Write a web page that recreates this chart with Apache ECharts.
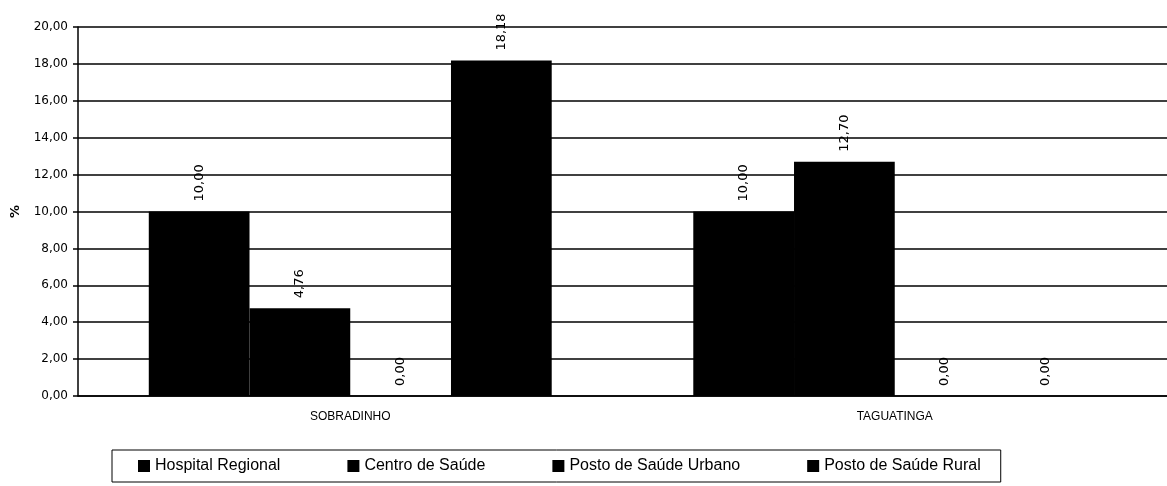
<!DOCTYPE html>
<html>
<head>
<meta charset="utf-8">
<script src="https://cdn.jsdelivr.net/npm/echarts@6/dist/echarts.min.js"></script>
<style>
  html, body { margin: 0; padding: 0; background: #fff; }
  #chart { width: 1167px; height: 486px; }
</style>
</head>
<body>
<div id="chart"></div>
<script>
// Regions compared
const categories = ['SOBRADINHO', 'TAGUATINGA'];

// Share (%) by type of health unit
const hospitalRegional = [10.00, 10.00];
const centroSaude = [4.76, 12.70];
const postoUrbano = [0.00, 0.00];
const postoRural = [18.18, 0.00];

const seriesNames = ['Hospital Regional', 'Centro de Saúde', 'Posto de Saúde Urbano', 'Posto de Saúde Rural'];
const yTickLabels = ['0,00', '2,00', '4,00', '6,00', '8,00', '10,00', '12,00', '14,00', '16,00', '18,00', '20,00'];

const fmt = v => v.toFixed(2).replace('.', ',');

const labelStyle = {
  show: true,
  position: 'top',
  rotate: 90,
  align: 'left',
  verticalAlign: 'middle',
  distance: 10,
  color: '#000',
  fontFamily: 'DejaVu Sans',
  fontSize: 13,
  formatter: p => fmt(p.value)
};

function makeSeries(name, data) {
  return {
    name: name,
    type: 'bar',
    data: data,
    barGap: '0%',
    barCategoryGap: '26%',
    itemStyle: { color: '#000' },
    label: labelStyle
  };
}

const chart = echarts.init(document.getElementById('chart'), null, { renderer: 'canvas' });
chart.setOption({
  animation: false,
  backgroundColor: '#fff',
  textStyle: { fontFamily: 'Liberation Sans' },
  grid: { left: 78, right: 0, top: 27, bottom: 90, containLabel: false, outerBoundsMode: 'none' },
  legend: {
    data: seriesNames,
    left: 112,
    top: 450,
    padding: [8, 20, 8, 26],
    itemGap: 67,
    itemWidth: 12,
    itemHeight: 12,
    borderColor: '#000',
    borderWidth: 1,
    icon: 'rect',
    textStyle: { fontFamily: 'Liberation Sans', fontSize: 16, color: '#000' }
  },
  xAxis: {
    type: 'category',
    data: categories,
    axisLine: { lineStyle: { color: '#000', width: 1.5 } },
    axisTick: { show: false },
    axisLabel: { color: '#000', fontFamily: 'Liberation Sans', fontSize: 12, margin: 15 }
  },
  yAxis: {
    type: 'value',
    min: 0,
    max: 20,
    interval: 2,
    name: '%',
    nameLocation: 'middle',
    nameRotate: 90,
    nameGap: 56,
    nameTextStyle: { color: '#000', fontFamily: 'DejaVu Sans', fontSize: 13, fontWeight: 'bold' },
    axisLine: { show: true, lineStyle: { color: '#000', width: 1.5 } },
    axisTick: { show: true, length: 5, lineStyle: { color: '#000', width: 1.5 } },
    splitLine: { lineStyle: { color: '#000', width: 1.5 } },
    axisLabel: {
      color: '#000',
      fontFamily: 'DejaVu Sans',
      fontSize: 12,
      margin: 10,
      formatter: v => yTickLabels[Math.round(v / 2)]
    }
  },
  series: [
    makeSeries(seriesNames[0], hospitalRegional),
    makeSeries(seriesNames[1], centroSaude),
    makeSeries(seriesNames[2], postoUrbano),
    makeSeries(seriesNames[3], postoRural)
  ]
});
</script>
</body>
</html>
